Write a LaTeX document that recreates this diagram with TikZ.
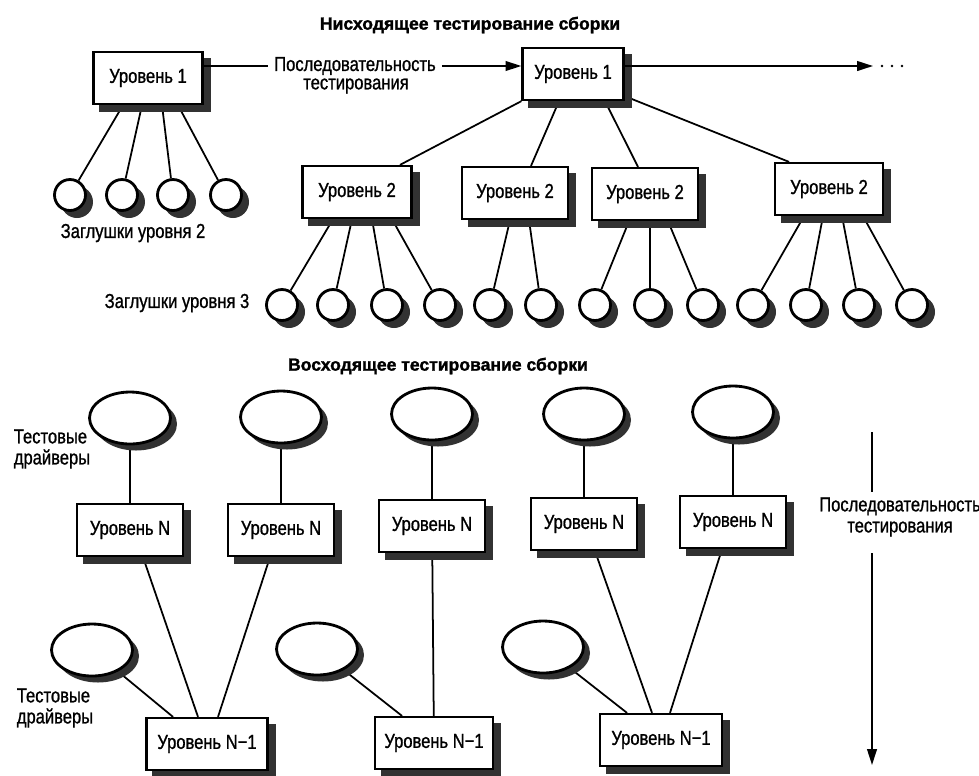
\documentclass[tikz,border=0pt]{standalone}
\usepackage{fontspec}
\setmainfont{Liberation Sans}[FakeStretch=0.82, FakeBold=1]
\newfontfamily\headfont{Liberation Sans}[BoldFeatures={FakeBold=1.5}]
\usetikzlibrary{calc,backgrounds,arrows.meta,shapes.geometric}
\definecolor{shadowgray}{RGB}{50,50,50}

\begin{document}
\begin{tikzpicture}[x=0.02cm, y=-0.02cm,
    lvl/.style={draw, line width=1.3pt, fill=white, minimum width=2.12cm, minimum height=1.04cm, inner sep=0pt,
        font=\fontsize{11.5}{13}\selectfont},
    stub/.style={draw, circle, line width=1.6pt, fill=white, minimum size=0.62cm, inner sep=0pt},
    drv/.style={draw, ellipse, line width=1.6pt, fill=white, minimum width=1.62cm, minimum height=1.04cm, inner sep=0pt},
    shadowfill/.style={fill=shadowgray, draw=none},
    lbl/.style={font=\fontsize{11.5}{12}\selectfont, align=center},
    title/.style={font=\headfont\bfseries\fontsize{10}{12}\selectfont},
    link/.style={line width=1pt},
    seqarrow/.style={line width=1pt, -{Triangle[length=9pt,width=5.5pt]}}
]
\useasboundingbox (0,0) rectangle (979,775);

% top-down integration
\node[title] (td) at (470,25) {Нисходящее тестирование сборки};
\node[lvl, minimum width=2.18cm] (a1) at (148,78) {Уровень 1};
\node[lvl, minimum width=2.02cm] (b1) at (573,74) {Уровень 1};
\node[lbl] (seqa) at (355,66) {Последовательность};
\node[lbl] (seqb) at (356,86) {тестирования};
\coordinate (more) at (873,66);

\node[lvl, minimum width=2.18cm] (b2a) at (357,192) {Уровень 2};
\node[lvl] (b2b) at (515,193) {Уровень 2};
\node[lvl] (b2c) at (645,194) {Уровень 2};
\node[lvl, minimum width=2.16cm] (b2d) at (829,189) {Уровень 2};

\foreach \x [count=\i] in {70,122,173,226}
    \node[stub] (u\i) at (\x,195) {};
\foreach \x [count=\i] in {282,333,387,440,490,541,595,650,703,753,806,859,912}
    \node[stub] (v\i) at (\x,305) {};
\node[lbl] (st2) at (133,233) {Заглушки уровня 2};
\node[lbl] (st3) at (177,303) {Заглушки уровня 3};

\draw[link] (a1.east |- seqa.west) -- (seqa.west);
\draw[seqarrow] (seqa.east) -- (seqa.east -| b1.west);
\draw[seqarrow] (b1.east |- more) -- (more);
\foreach \x in {882,892,902}
    \fill (\x,66) circle[radius=0.8pt];

% bottom-up integration
\node[title] (bu) at (438,366) {Восходящее тестирование сборки};
\foreach \x/\y [count=\i] in {130/418,281/417,432/414,584/414,733/412}
    \node[drv] (d\i) at (\x,\y) {};
\foreach \x/\y [count=\i] in {130/530,281/530,432/526,584/524,733/522}
    \node[lvl] (n\i) at (\x,\y) {Уровень N};
\node[drv] (e1) at (92,650) {};
\node[drv] (e2) at (317,649) {};
\node[drv] (e3) at (543,647) {};
\node[lvl, minimum width=2.42cm] (m1) at (207,744) {Уровень N−1};
\node[lvl, minimum width=2.36cm] (m2) at (434,743) {Уровень N−1};
\node[lvl, minimum width=2.44cm] (m3) at (661,740) {Уровень N−1};
\node[lbl, align=left] (dl1) at (52,449) {Тестовые\\драйверы};
\node[lbl, align=left] (dl2) at (55,708) {Тестовые\\драйверы};

\coordinate (q1) at (872,432);
\coordinate (q2) at (872,492);
\coordinate (q3) at (872,553);
\coordinate (q4) at (872,765);
\node[lbl] (seqr) at (900,517) {Последовательность\\тестирования};
\draw[link] (q1) -- (q2);
\draw[seqarrow] (q3) -- (q4);

\begin{scope}[on background layer]
    \draw[link] (b1.south west) -- ($(b2a.north)+(43,0)$);
    \draw[link] ($(b1.south)+(-14,0)$) -- ($(b2b.north)+(16,0)$);
    \draw[link] ($(b1.south)+(32,0)$) -- ($(b2c.north)+(-7,0)$);
    \draw[link] ($(b1.south east)+(0,-5)$) -- ($(b2d.north)+(-40,0)$);
    \foreach \dx [count=\i] in {-25,-6,14,30}
        \draw[link] ($(a1.south)+(\dx,0)$) -- (u\i);
    \foreach \b/\dx/\s in {b2a/-24/1, b2a/-5/2, b2a/15/3, b2a/35/4,
                           b2b/-5/5, b2b/14/6,
                           b2c/-16/7, b2c/5/8, b2c/23/9,
                           b2d/-25/10, b2d/-6/11, b2d/13/12, b2d/34/13}
        \draw[link] ($(\b.south)+(\dx,0)$) -- (v\s);
    \foreach \i in {1,...,5}
        \draw[link] (d\i) -- (n\i);
    \draw[link] ($(n1.south)+(13,0)$) -- ($(m1.north)+(-9,0)$);
    \draw[link] ($(n2.south)+(-11,0)$) -- ($(m1.north)+(11,0)$);
    \draw[link] (e1) -- ($(m1.north)+(-34,0)$);
    \draw[link] (n3) -- (m2);
    \draw[link] (e2) -- ($(m2.north)+(-32,0)$);
    \draw[link] ($(n4.south)+(11,0)$) -- ($(m3.north)+(-9,0)$);
    \draw[link] ($(n5.south)+(-11,0)$) -- ($(m3.north)+(9,0)$);
    \draw[link] (e3) -- ($(m3.north)+(-34,0)$);

    % shadows
    \foreach \n in {a1,b1,b2a,b2b,b2c,b2d,n1,n2,n3,n4,n5,m1,m2,m3}
        \path[shadowfill] ($(\n.south west)+(7,7)$) rectangle ($(\n.north east)+(7,7)$);
    \foreach \n in {u1,u2,u3,u4,v1,v2,v3,v4,v5,v6,v7,v8,v9,v10,v11,v12,v13}
        \path[shadowfill] ($(\n)+(7,7)$) circle[radius=0.32cm];
    \foreach \n in {d1,d2,d3,d4,d5,e1,e2,e3}
        \path[shadowfill] ($(\n)+(6,6)$) ellipse[x radius=0.82cm, y radius=0.53cm];
\end{scope}
\end{tikzpicture}
\end{document}
